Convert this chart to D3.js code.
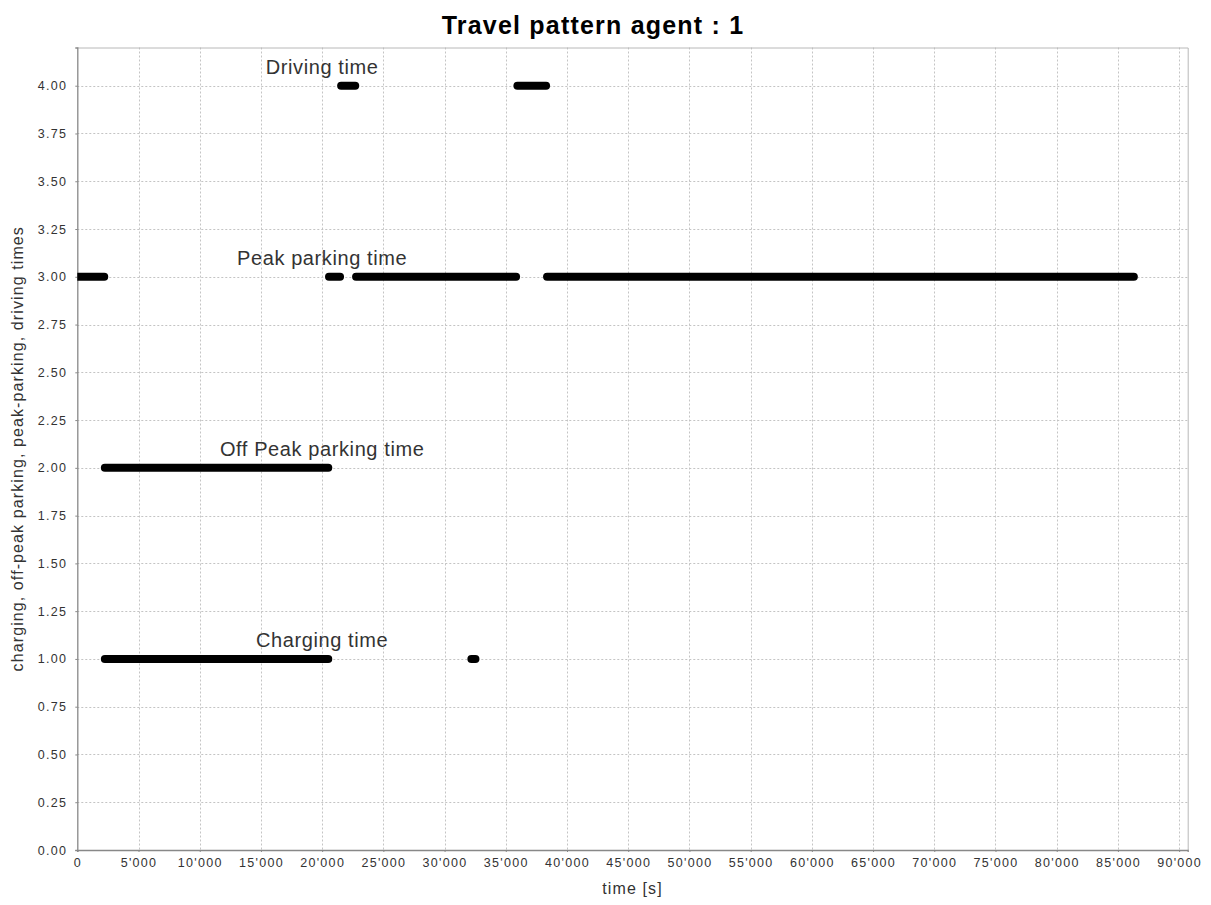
<!DOCTYPE html>
<html>
<head>
<meta charset="utf-8">
<script src="https://cdn.jsdelivr.net/npm/d3@7"></script>
<style>
  body { margin: 0; background: #fff; }
  svg { display: block; }
  text { font-family: "Liberation Sans", Arial, sans-serif; }
</style>
</head>
<body>
<svg id="chart" width="1211" height="905"></svg>
<script>
// Activity levels: 1 = charging, 2 = off-peak parking, 3 = peak parking, 4 = driving
const levels = [1, 2, 3, 4];
const levelNames = ["Charging time", "Off Peak parking time", "Peak parking time", "Driving time"];

// Time intervals [start, end] in seconds for each level
const chargingSegments = [[2250, 20500], [32190, 32520]];
const offPeakSegments  = [[2250, 20500]];
const peakSegments     = [[0, 2200], [20560, 21460], [22770, 35840], [38370, 86300]];
const drivingSegments  = [[21550, 22700], [35950, 38290]];

const xTicks = d3.range(0, 90001, 5000);
const yTicks = d3.range(0, 4.001, 0.25);
const labelTime = 20000;

const svg = d3.select("#chart");
const plot = { left: 77.3, right: 1187.7, top: 47.5, bottom: 850 };

const x = d3.scaleLinear().domain([0, 90700]).range([plot.left, plot.right]);
const y = d3.scaleLinear().domain([0, 4.2]).range([plot.bottom, plot.top]);

svg.append("defs").append("clipPath").attr("id", "plotClip")
  .append("rect")
  .attr("x", plot.left).attr("y", plot.top)
  .attr("width", plot.right - plot.left).attr("height", plot.bottom - plot.top);

// Grid lines
const grid = svg.append("g").attr("stroke", "#c4c4c4").attr("stroke-dasharray", "2,2").attr("stroke-width", 1);
grid.selectAll(".gx").data(xTicks.filter(d => d > 0)).join("line")
  .attr("x1", d => Math.round(x(d)) + 0.5).attr("x2", d => Math.round(x(d)) + 0.5)
  .attr("y1", plot.top).attr("y2", plot.bottom);
grid.selectAll(".gy").data(yTicks.filter(d => d > 0)).join("line")
  .attr("y1", d => Math.round(y(d)) + 0.5).attr("y2", d => Math.round(y(d)) + 0.5)
  .attr("x1", plot.left).attr("x2", plot.right);

// Plot outline (top and right)
svg.append("path")
  .attr("d", `M${plot.left},${plot.top + 0.5}H${plot.right + 0.5}V${plot.bottom}`)
  .attr("fill", "none").attr("stroke", "#b8b8b8").attr("stroke-width", 1);

// Axes
const fmtX = d => d === 0 ? "0" : d3.format(",")(d).replace(/,/g, "'");
const xAxis = d3.axisBottom(x).tickValues(xTicks).tickFormat(fmtX).tickSize(2).tickPadding(6);
const yAxis = d3.axisLeft(y).tickValues(yTicks).tickFormat(d3.format(".2f")).tickSize(2).tickPadding(8);

const gx = svg.append("g").attr("transform", `translate(0,${plot.bottom})`).call(xAxis);
const gy = svg.append("g").attr("transform", `translate(${plot.left},0)`).call(yAxis);
[gx, gy].forEach(g => {
  g.select(".domain").attr("stroke", "#888").attr("stroke-width", 1.3);
  g.selectAll(".tick line").attr("stroke", "#888");
  g.selectAll(".tick text")
    .style("fill", "#333")
    .style("font-family", "'Liberation Sans', Arial, sans-serif")
    .style("font-size", "12.5px")
    .style("letter-spacing", "1.3px");
});

// Activity bars
const seriesSegments = [chargingSegments, offPeakSegments, peakSegments, drivingSegments];
const marks = svg.append("g").attr("clip-path", "url(#plotClip)");
seriesSegments.forEach((segs, i) => {
  marks.selectAll(null).data(segs).join("line")
    .attr("x1", d => x(d[0])).attr("x2", d => x(d[1]))
    .attr("y1", y(levels[i])).attr("y2", y(levels[i]))
    .attr("stroke", "#000").attr("stroke-width", 8).attr("stroke-linecap", "round");
});

// Series annotations
svg.append("g").selectAll("text").data(levels).join("text")
  .attr("x", x(labelTime))
  .attr("y", d => y(d + 0.09))
  .attr("text-anchor", "middle")
  .attr("dominant-baseline", "middle")
  .style("fill", "#333")
  .style("font-size", "20px")
  .style("letter-spacing", "0.6px")
  .text((d, i) => levelNames[i]);

// Titles
svg.append("text")
  .attr("x", 593).attr("y", 34)
  .attr("text-anchor", "middle")
  .style("font-size", "25px").style("font-weight", "bold").style("letter-spacing", "1.2px")
  .style("fill", "#000")
  .text("Travel pattern agent : 1");

svg.append("text")
  .attr("x", (plot.left + plot.right) / 2).attr("y", 894)
  .attr("text-anchor", "middle")
  .style("fill", "#333")
  .style("font-size", "16px").style("letter-spacing", "1.1px")
  .text("time [s]");

svg.append("text")
  .attr("transform", `translate(23,${(plot.top + plot.bottom) / 2}) rotate(-90)`)
  .attr("text-anchor", "middle")
  .style("fill", "#333")
  .style("font-size", "16px").style("letter-spacing", "1.1px")
  .text("charging, off-peak parking, peak-parking, driving times");
</script>
</body>
</html>
